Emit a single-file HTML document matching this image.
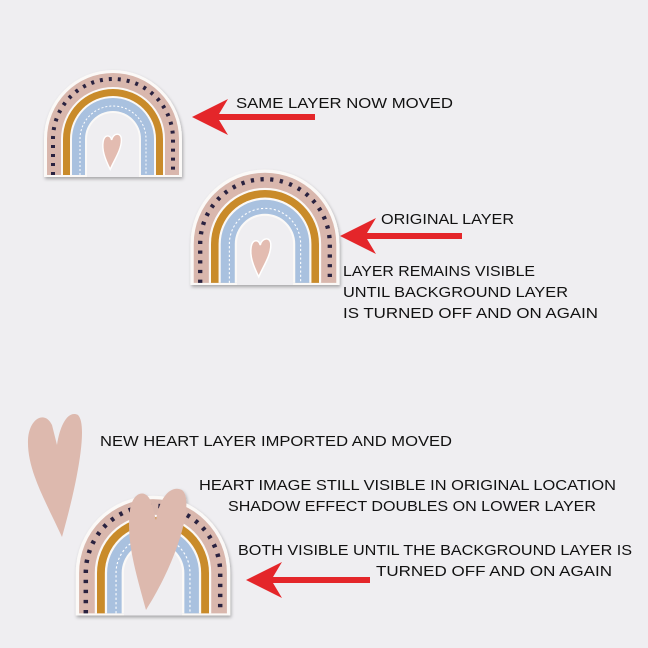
<!DOCTYPE html>
<html><head><meta charset="utf-8"><style>
html,body{margin:0;padding:0;background:#efeef1;}
svg{display:block}
text{font-family:"Liberation Sans",sans-serif;font-size:15px;fill:#111;}
</style></head><body>
<svg width="648" height="648" viewBox="0 0 648 648" xmlns="http://www.w3.org/2000/svg">
<defs>
<filter id="sh" x="-20%" y="-20%" width="140%" height="140%"><feDropShadow dx="1" dy="2" stdDeviation="1.5" flood-color="#000" flood-opacity="0.3"/></filter>
<g id="rb">
<path d="M-69,38 L-69,0 A69,69 0 0 1 69,0 L69,38 Z" fill="#fbf9f7"/>
<path d="M-66,36 L-66,0 A66,66 0 0 1 66,0 L66,36 Z" fill="#d9b7ad"/>
<path d="M-60,36 L-60,0 A60,60 0 0 1 60,0 L60,36" fill="none" stroke="#2a2440" stroke-width="4" stroke-dasharray="3 6"/>
<path d="M-52,36 L-52,0 A52,52 0 0 1 52,0 L52,36 Z" fill="#fbf9f7"/>
<path d="M-50,36 L-50,0 A50,50 0 0 1 50,0 L50,36 Z" fill="#c98b2b"/>
<path d="M-43,36 L-43,0 A43,43 0 0 1 43,0 L43,36 Z" fill="#fbf9f7"/>
<path d="M-41,36 L-41,0 A41,41 0 0 1 41,0 L41,36 Z" fill="#a9c1df"/>
<path d="M-33,36 L-33,0 A33,33 0 0 1 33,0 L33,36" fill="none" stroke="#fff" stroke-width="1" stroke-dasharray="2 2"/>
<path d="M-28,36 L-28,0 A28,28 0 0 1 28,0 L28,36 Z" fill="#fbf9f7"/>
<path d="M-26,38 L-26,0 A26,26 0 0 1 26,0 L26,38 Z" fill="#efeef1"/>
</g>
<path id="sh1" d="M-2,16 C-6,8 -8,2 -7,-4 C-6,-9 -2,-9 -1,-5 C0,-10 6,-11 6,-5 C6,2 1,9 -2,16Z" fill="#e3bcb1" stroke="#fff" stroke-width="1"/>
</defs>
<g filter="url(#sh)">
<g transform="translate(113,139)"><use href="#rb"/>
<g transform="translate(0,8) scale(1.4)"><use href="#sh1"/></g></g>
<g transform="translate(265,244) scale(1.08)"><use href="#rb"/>
<g transform="translate(-3,8) scale(1.4)"><use href="#sh1"/></g></g>
<g transform="translate(153,573) scale(1.12)"><use href="#rb"/></g>
<path d="M146,610 C135,570 126,540 130,510 C133,490 148,488 152,505 L156,520 C160,495 172,485 182,490 C195,500 178,560 146,610 Z" fill="#ddb9ae"/>
</g>
<path d="M62,537 C45,500 27,470 28,440 C29,418 45,410 52,425 L57,445 C60,425 68,410 78,415 C88,425 78,480 62,537 Z" fill="#ddb9ae"/>
<g fill="#e4262a">
<path d="M192,117 L228,99 L219,114 L315,114 L315,120 L219,120 L228,135 Z"/>
<path d="M340,236 L376,218 L367,233 L462,233 L462,239 L367,239 L376,254 Z"/>
<path d="M246,580 L282,562 L273,577 L370,577 L370,583 L273,583 L282,598 Z"/>
</g>
<text x="236" y="108" textLength="217" lengthAdjust="spacingAndGlyphs">SAME LAYER NOW MOVED</text>
<text x="381" y="224" textLength="133" lengthAdjust="spacingAndGlyphs">ORIGINAL LAYER</text>
<text x="343" y="276" textLength="192" lengthAdjust="spacingAndGlyphs">LAYER REMAINS VISIBLE</text>
<text x="343" y="297" textLength="225" lengthAdjust="spacingAndGlyphs">UNTIL BACKGROUND LAYER</text>
<text x="343" y="318" textLength="255" lengthAdjust="spacingAndGlyphs">IS TURNED OFF AND ON AGAIN</text>
<text x="100" y="446" textLength="352" lengthAdjust="spacingAndGlyphs">NEW HEART LAYER IMPORTED AND MOVED</text>
<text x="199" y="490" textLength="417" lengthAdjust="spacingAndGlyphs">HEART IMAGE STILL VISIBLE IN ORIGINAL LOCATION</text>
<text x="228" y="511" textLength="368" lengthAdjust="spacingAndGlyphs">SHADOW EFFECT DOUBLES ON LOWER LAYER</text>
<text x="238" y="555" textLength="394" lengthAdjust="spacingAndGlyphs">BOTH VISIBLE UNTIL THE BACKGROUND LAYER IS</text>
<text x="376" y="576" textLength="236" lengthAdjust="spacingAndGlyphs">TURNED OFF AND ON AGAIN</text>
</svg>
</body></html>
